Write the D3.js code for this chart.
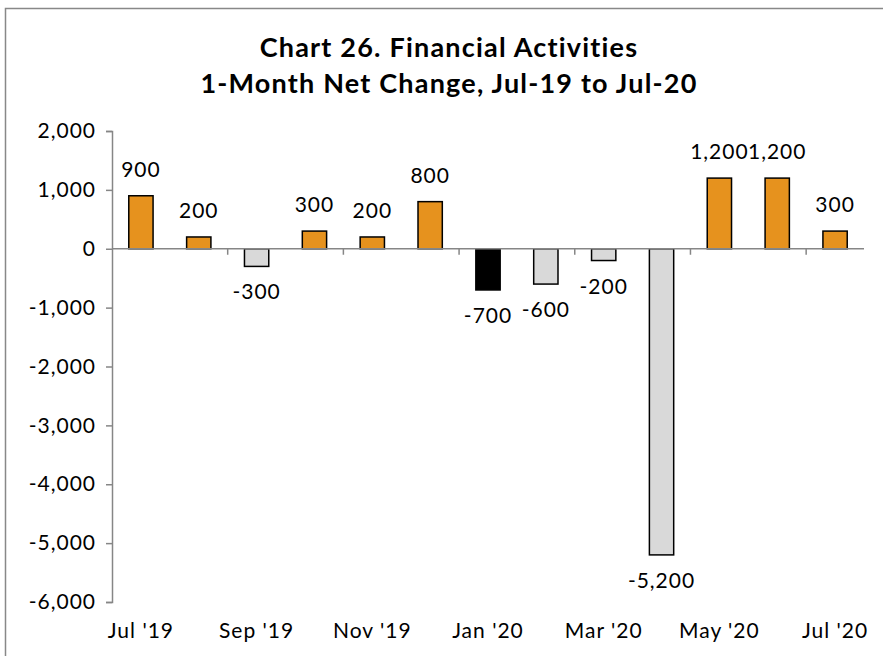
<!DOCTYPE html>
<html><head><meta charset="utf-8">
<script src="https://cdn.jsdelivr.net/npm/d3@7"></script>
<style>body{margin:0;background:#fff}svg{display:block}text{font-family:"Century Gothic",Lato,"Open Sans",sans-serif}</style>
</head><body><svg id="c" width="883" height="656"></svg>
<script>
const months = ["Jul '19","Aug '19","Sep '19","Oct '19","Nov '19","Dec '19","Jan '20","Feb '20","Mar '20","Apr '20","May '20","Jun '20","Jul '20"];
const values = [900,200,-300,300,200,800,-700,-600,-200,-5200,1200,1200,300];
const barColors = ["#E6921E","#E6921E","#D9D9D9","#E6921E","#E6921E","#E6921E","#000000","#D9D9D9","#D9D9D9","#D9D9D9","#E6921E","#E6921E","#E6921E"];
const yTicks = [2000,1000,0,-1000,-2000,-3000,-4000,-5000,-6000];
const titleLines = ["Chart 26. Financial Activities","1-Month Net Change, Jul-19 to Jul-20"];

(function(){
const svg = d3.select("#c");
svg.append("rect").attr("x",5.5).attr("y",8.5).attr("width",900).attr("height",700)
  .attr("fill","none").attr("stroke","#888").attr("stroke-width",1.5);

const pL=112, pR=864, pT=131, pB=602;
const x = d3.scaleBand().domain(months).range([pL,pR]).paddingInner(0.58).paddingOuter(0.29);
const y = d3.scaleLinear().domain([-6000,2000]).range([pB,pT]);
const f0 = d3.format(",");
const fmt = v => f0(v).replace("\u2212","-");
const FS = 21;

svg.selectAll(".t").data(titleLines).join("text")
  .attr("x",449).attr("y",(d,i)=>57+i*36).attr("text-anchor","middle")
  .attr("font-size",27).attr("font-weight","bold").attr("letter-spacing",1.2)
  .attr("fill","#000").text(d=>d);

const ya = svg.append("g").attr("transform",`translate(${pL},0)`)
  .call(d3.axisLeft(y).tickValues(yTicks).tickSize(6).tickPadding(10).tickFormat(fmt));
ya.select(".domain").attr("stroke","#868686").attr("stroke-width",1.5);
ya.selectAll(".tick line").attr("stroke","#868686").attr("stroke-width",1.5);
ya.selectAll(".tick text").attr("font-size",FS).attr("fill","#000").attr("letter-spacing",1)
  .attr("font-family",'"Century Gothic",Lato,"Open Sans",sans-serif');

svg.selectAll(".bar").data(values).join("rect")
  .attr("x",(d,i)=>x(months[i])).attr("width",x.bandwidth())
  .attr("y",d=>y(Math.max(0,d))).attr("height",d=>Math.abs(y(d)-y(0)))
  .attr("fill",(d,i)=>barColors[i]).attr("stroke","#000").attr("stroke-width",1.5);

const step = x.step();
const xa = svg.append("g").attr("transform",`translate(0,${y(0)})`);
xa.append("line").attr("x1",pL).attr("x2",pR).attr("stroke","#868686").attr("stroke-width",1.5);
const boundaries = d3.range(2,months.length,2).map(i=>x(months[i]) - (step-x.bandwidth())/2);
xa.selectAll(".xt").data(boundaries).join("line")
  .attr("x1",d=>d).attr("x2",d=>d).attr("y1",0).attr("y2",6)
  .attr("stroke","#868686").attr("stroke-width",1.5);

svg.selectAll(".xl").data(months.filter((m,i)=>i%2===0)).join("text")
  .attr("x",d=>x(d)+x.bandwidth()/2).attr("y",638).attr("text-anchor","middle")
  .attr("font-size",FS).attr("letter-spacing",1).attr("fill","#000").text(d=>d);

svg.selectAll(".dl").data(values).join("text")
  .attr("x",(d,i)=>x(months[i])+x.bandwidth()/2)
  .attr("y",d=>d>=0 ? y(d)-19 : y(d)+33)
  .attr("text-anchor","middle").attr("font-size",FS).attr("letter-spacing",1).attr("fill","#000")
  .text(d=>fmt(d));
})();
</script></body></html>
